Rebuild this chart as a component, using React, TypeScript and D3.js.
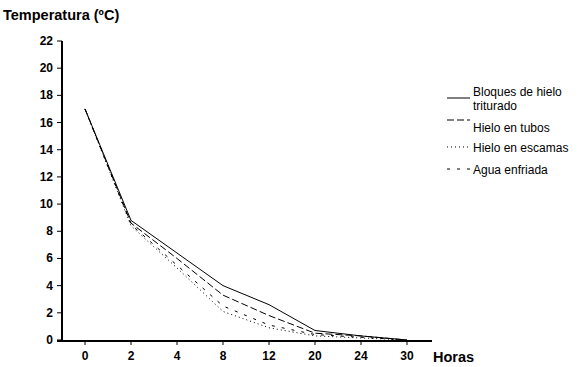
import * as React from "react"
import * as d3 from "d3"

// hours on the x axis (categorical, evenly spaced)
const hours = ["0", "2", "4", "8", "12", "20", "24", "30"]
const yTicks = [0, 2, 4, 6, 8, 10, 12, 14, 16, 18, 20, 22]

const bloques = [17, 8.8, 6.4, 4.0, 2.6, 0.7, 0.3, 0]
const tubos = [17, 8.6, 6.0, 3.3, 1.8, 0.5, 0.3, 0]
const escamas = [17, 8.4, 5.3, 2.1, 0.9, 0.3, 0.15, 0]
const agua = [17, 8.5, 5.5, 2.5, 1.1, 0.4, 0.2, 0]

const seriesNames = ["Bloques de hielo triturado", "Hielo en tubos", "Hielo en escamas", "Agua enfriada"]

interface Series {
    readonly name: string
    readonly values: ReadonlyArray<number>
    readonly dash: string
}

const series: ReadonlyArray<Series> = [
    { name: seriesNames[0], values: bloques, dash: "none" },
    { name: seriesNames[1], values: tubos, dash: "7,3" },
    { name: seriesNames[2], values: escamas, dash: "1,3" },
    { name: seriesNames[3], values: agua, dash: "3,7" },
]

const W = 583
const H = 367
const font = "'Liberation Sans', Arial, sans-serif"

export default function App(): JSX.Element {
    const x = d3.scalePoint<string>().domain(hours).range([85, 407])
    const y = d3.scaleLinear().domain([0, 22]).range([340, 41])

    const line = d3.line<number>()
        .x((_, i) => x(hours[i]) as number)
        .y(d => y(d))

    // legend rows: line sample y, text lines
    const legend = [
        { ly: 98, texts: ["Bloques de hielo", "triturado"], ty: 96 },
        { ly: 120, texts: ["Hielo en tubos"], ty: 132 },
        { ly: 147, texts: ["Hielo en escamas"], ty: 152 },
        { ly: 169, texts: ["Agua enfriada"], ty: 174 },
    ]

    return (
        <svg width={W} height={H} style={{ position: "absolute", left: 0, top: 0, background: "#fff" }}
            fontFamily={font}>
            <text x={3} y={20} fontSize={14.5} fontWeight="bold">Temperatura (ºC)</text>

            {/* y axis */}
            <line x1={62} x2={62} y1={y(22)} y2={y(0) + 1} stroke="#000" strokeWidth={2} />
            {yTicks.map(t => (
                <g key={t}>
                    <line x1={57} x2={62} y1={y(t)} y2={y(t)} stroke="#000" strokeWidth={1} />
                    <text x={53} y={y(t) + 4} textAnchor="end" fontSize={12} fontWeight="bold">{t}</text>
                </g>
            ))}

            {/* x axis */}
            <line x1={57} x2={432} y1={y(0) + 1} y2={y(0) + 1} stroke="#000" strokeWidth={2} />
            {hours.map(h => (
                <g key={h}>
                    <line x1={x(h)} x2={x(h)} y1={y(0) + 1} y2={y(0) + 5} stroke="#000" strokeWidth={1} />
                    <text x={x(h)} y={360} textAnchor="middle" fontSize={12} fontWeight="bold">{h}</text>
                </g>
            ))}
            <text x={433} y={362} fontSize={14.5} fontWeight="bold">Horas</text>

            {series.map(s => (
                <path key={s.name} d={line(s.values as number[]) || ""} fill="none" stroke="#000"
                    strokeWidth={1} strokeDasharray={s.dash} />
            ))}

            {/* legend */}
            {legend.map((l, i) => (
                <g key={i}>
                    <line x1={447} x2={470} y1={l.ly} y2={l.ly} stroke="#000" strokeWidth={1}
                        strokeDasharray={series[i].dash} />
                    {l.texts.map((t, j) => (
                        <text key={t} x={473} y={l.ty + j * 14} fontSize={12}>{t}</text>
                    ))}
                </g>
            ))}
        </svg>
    )
}
